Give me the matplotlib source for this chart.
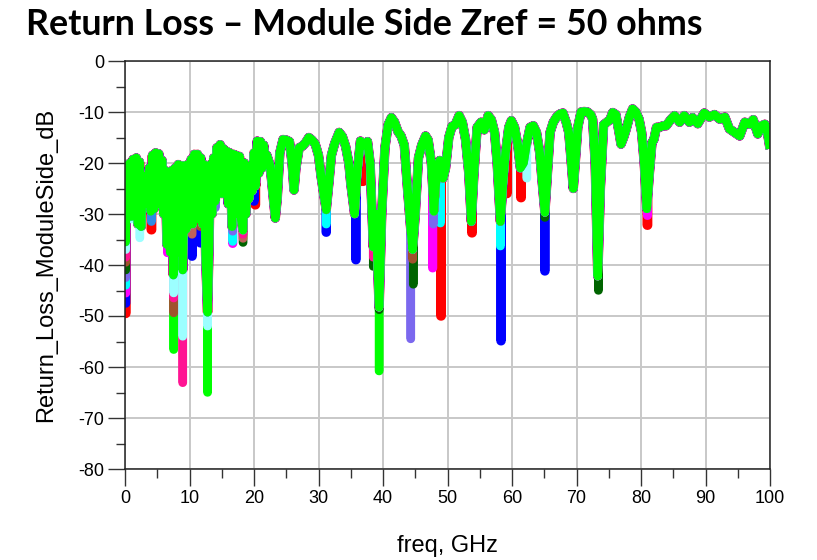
import numpy as np
import matplotlib
matplotlib.use("Agg")
import matplotlib.pyplot as plt

# ---------------- data ----------------
title_text = "Return Loss \u2013 Module Side Zref = 50 ohms"
x_label = "freq, GHz"
y_label = "Return_Loss_ModuleSide_dB"
x_ticks = [0, 10, 20, 30, 40, 50, 60, 70, 80, 90, 100]
y_ticks = [0, -10, -20, -30, -40, -50, -60, -70, -80]

# main (top, lime) trace
freq_ghz = [
    0.00, 0.10, 0.25, 0.50, 0.75, 1.00, 1.25, 1.50, 1.75, 2.00, 2.25, 2.50, 2.75, 3.00,
    3.25, 3.50, 3.75, 4.00, 4.25, 4.50, 4.75, 5.00, 5.25, 5.50, 5.75, 6.00, 6.25, 6.50,
    6.75, 7.00, 7.25, 7.50, 7.75, 8.00, 8.25, 8.50, 8.75, 8.95, 9.25, 9.50, 9.75, 10.00,
    10.25, 10.50, 10.75, 11.00, 11.25, 11.50, 11.75, 12.00, 12.25, 12.50, 12.80, 13.00,
    13.25, 13.50, 13.75, 14.00, 14.25, 14.50, 14.75, 15.00, 15.25, 15.50, 15.75, 16.00,
    16.25, 16.60, 16.85, 17.00, 17.25, 17.50, 17.75, 18.00, 18.30, 18.50, 18.75, 19.00,
    19.25, 19.50, 19.75, 20.00, 20.25, 20.50, 20.75, 21.00, 21.25, 21.50, 21.75, 22.00,
    22.50, 23.00, 23.30, 23.60, 24.00, 24.50, 25.00, 25.50, 25.90, 26.20, 26.50, 27.00,
    27.50, 28.00, 28.50, 29.00, 29.50, 30.00, 30.40, 30.80, 31.20, 31.60, 32.00, 32.50,
    33.20, 33.70, 34.20, 34.70, 35.00, 35.60, 36.00, 36.50, 37.00, 37.60, 38.00, 38.50,
    38.90, 39.40, 39.80, 40.30, 40.80, 41.30, 41.80, 42.30, 42.80, 43.30, 43.80, 44.30,
    44.60, 45.00, 45.50, 46.00, 46.60, 47.00, 47.50, 47.90, 48.30, 48.80, 49.30, 49.70,
    50.20, 50.70, 51.20, 51.80, 52.30, 52.80, 53.30, 53.70, 54.10, 54.60, 55.20, 55.70,
    56.30, 56.80, 57.30, 57.70, 58.20, 58.60, 59.00, 59.50, 59.90, 60.40, 60.90, 61.30,
    61.80, 62.30, 62.80, 63.30, 63.80, 64.30, 64.70, 65.10, 65.50, 65.90, 66.40, 66.90,
    67.40, 67.90, 68.40, 68.80, 69.20, 69.50, 69.80, 70.20, 70.70, 71.20, 71.70, 72.20,
    72.50, 72.90, 73.30, 73.70, 74.20, 74.70, 75.20, 75.60, 76.10, 76.60, 76.90, 77.30,
    77.70, 78.20, 78.70, 79.20, 79.70, 80.10, 80.50, 80.90, 81.30, 81.70, 82.00, 82.40,
    82.90, 83.40, 83.90, 84.60, 85.20, 85.70, 86.00, 86.70, 87.50, 88.00, 88.80, 89.80,
    90.60, 91.40, 92.20, 93.00, 93.70, 94.50, 95.30, 96.10, 96.80, 97.40, 98.10, 98.70,
    99.20, 99.60, 100.00,
]
lime_db = [
    -21.0, -35.5, -20.5, -30.0, -20.0, -30.5, -19.3, -30.0, -19.0, -32.0, -19.8, -32.5, -22.5, -28.0,
    -23.0, -27.0, -21.0, -29.5, -18.5, -29.0, -18.0, -28.0, -18.2, -27.0, -19.5, -30.0, -21.5, -36.0,
    -22.5, -37.5, -21.5, -42.0, -21.0, -36.0, -20.3, -37.5, -20.5, -41.0, -20.5, -33.0, -20.3, -32.0,
    -19.3, -32.0, -18.3, -31.0, -18.3, -31.0, -19.0, -32.0, -20.3, -38.0, -49.3, -38.0,
    -20.3, -30.0, -19.0, -27.5, -17.0, -26.0, -16.4, -26.0, -17.2, -26.0, -17.7, -28.0,
    -18.0, -32.5, -18.3, -30.0, -18.5, -26.0, -18.7, -31.0, -33.2, -20.0, -30.0, -21.0,
    -27.0, -20.5, -25.5, -18.0, -24.5, -15.7, -22.0, -15.8, -21.0, -16.5, -20.0, -18.5,
    -20.5, -27.0, -30.8, -27.0, -18.0, -15.4, -15.5, -15.8, -20.0, -25.3, -21.0, -17.0,
    -16.7, -16.0, -15.0, -15.5, -16.3, -18.5, -22.6, -26.0, -29.2, -24.0, -18.5, -16.2,
    -14.0, -14.8, -16.7, -20.0, -24.0, -30.0, -22.0, -15.7, -16.5, -15.8, -20.0, -36.5,
    -30.0, -48.3, -30.0, -17.0, -12.5, -11.1, -12.0, -13.8, -14.7, -16.5, -25.0, -33.0,
    -37.0, -30.0, -19.0, -16.5, -14.7, -15.5, -20.0, -29.5, -22.0, -19.5, -23.0, -21.0,
    -15.0, -12.8, -12.5, -10.7, -12.0, -15.4, -22.0, -31.5, -22.0, -13.0, -12.0, -13.5,
    -10.7, -11.5, -14.0, -20.0, -31.5, -24.0, -18.0, -13.0, -11.7, -13.0, -16.5, -21.0,
    -20.0, -16.0, -13.0, -12.7, -14.0, -18.0, -24.0, -29.7, -22.0, -14.0, -12.0, -11.0,
    -10.4, -10.2, -12.0, -14.0, -20.0, -25.0, -20.0, -13.0, -10.0, -9.9, -10.0, -10.5,
    -11.4, -20.0, -42.2, -25.0, -12.5, -12.0, -11.5, -10.1, -10.5, -14.0, -16.3, -15.0,
    -13.4, -11.0, -9.4, -10.0, -11.4, -14.0, -20.0, -29.0, -22.0, -16.0, -15.4, -13.0,
    -13.0, -12.7, -12.7, -11.5, -10.7, -11.5, -12.0, -10.7, -12.0, -11.1, -12.3, -10.2,
    -11.0, -10.5, -11.4, -11.0, -13.3, -14.0, -14.7, -12.0, -12.4, -11.5, -14.3, -12.7,
    -12.4, -14.0, -17.2,
]

# the other traces follow the main one except where their resonances dip deeper
lime_deep_dip_ghz = [7.55, 12.8, 39.4]
lime_deep_dip_db = [-56.6, -65.0, -60.8]
red_dip_ghz = [0.1, 4.1, 20.2, 36.9, 49.0, 53.8, 59.2, 61.4, 81.0]
red_dip_db = [-49.5, -33.1, -28.2, -23.6, -50.0, -33.7, -26.0, -26.8, -32.2]
blue_dip_ghz = [0.1, 10.4, 11.7, 20.0, 31.2, 35.8, 58.3, 65.1]
blue_dip_db = [-47.5, -38.3, -35.7, -27.5, -33.6, -39.0, -54.9, -41.2]
magenta_dip_ghz = [0.1, 6.6, 16.7, 47.7, 81.0]
magenta_dip_db = [-45.5, -37.6, -35.8, -40.6, -30.3]
cyan_dip_ghz = [0.1, 16.7, 31.2, 48.9, 58.2]
cyan_dip_db = [-44.0, -35.4, -32.0, -31.8, -36.3]
slateblue_dip_ghz = [0.1, 14.0, 16.7, 44.3, 47.8]
slateblue_dip_db = [-42.5, -28.8, -33.4, -54.5, -32.0]
darkgreen_dip_ghz = [0.1, 18.3, 38.5, 39.4, 44.7, 65.1, 73.4]
darkgreen_dip_db = [-41.0, -35.6, -40.3, -48.8, -43.8, -30.7, -45.0]
sienna_dip_ghz = [0.1, 7.55, 11.7, 44.6]
sienna_dip_db = [-39.5, -49.4, -32.5, -38.9]
indianred_dip_ghz = [10.4, 18.3]
indianred_dip_db = [-34.0, -34.8]
pink_dip_ghz = [0.1, 7.55, 8.95, 18.3, 38.5]
pink_dip_db = [-38.5, -46.5, -63.1, -34.0, -38.5]
paleturq_dip_ghz = [0.1, 1.0, 2.3, 7.55, 8.95, 12.8, 62.3]
paleturq_dip_db = [-37.0, -31.0, -34.7, -45.5, -54.0, -52.0, -23.0]
dodger_dip_ghz = [4.1]
dodger_dip_db = [-31.5]

# ---------------- styling ----------------
plt.rcParams["font.family"] = ["Liberation Sans", "DejaVu Sans"]
plt.rcParams["axes.unicode_minus"] = False

W, H = 817, 560
fig = plt.figure(figsize=(W / 100, H / 100), dpi=100)
L, R, T, B = 125, 770, 61, 469
ax = fig.add_axes([L / W, 1 - B / H, (R - L) / W, (B - T) / H])


def trace_with_dips(dip_f, dip_db, eps=0.03):
    f = np.asarray(freq_ghz, float)
    y = np.asarray(lime_db, float)
    keep = np.ones(len(f), bool)
    for f0 in dip_f:
        keep &= ~((f > f0 - eps - 1e-9) & (f < f0 + eps + 1e-9))
    pts = [(fx, 0, yy) for fx, yy in zip(f[keep], y[keep])]
    for f0, d in zip(dip_f, dip_db):
        yl = np.interp(f0 - eps, f, y)
        yr = np.interp(f0 + eps, f, y)
        pts += [(f0 - eps, 1, yl), (f0 - eps, 2, d), (f0 + eps, 3, d), (f0 + eps, 4, yr)]
    pts.sort(key=lambda p: (p[0], p[1]))
    return [p[0] for p in pts], [p[2] for p in pts]


LW = 6.0
layers = [
    ("#00FF00", lime_deep_dip_ghz, lime_deep_dip_db, LW),
    ("#FF0000", red_dip_ghz, red_dip_db, LW + 0.8),
    ("#0000FF", blue_dip_ghz, blue_dip_db, LW + 0.5),
    ("#FF00FF", magenta_dip_ghz, magenta_dip_db, LW + 0.3),
    ("#00FFFF", cyan_dip_ghz, cyan_dip_db, LW),
    ("#7B68EE", slateblue_dip_ghz, slateblue_dip_db, LW),
    ("#006400", darkgreen_dip_ghz, darkgreen_dip_db, LW),
    ("#A0522D", sienna_dip_ghz, sienna_dip_db, LW),
    ("#C0605A", indianred_dip_ghz, indianred_dip_db, LW),
    ("#FF1493", pink_dip_ghz, pink_dip_db, LW),
    ("#9CFFFF", paleturq_dip_ghz, paleturq_dip_db, LW),
    ("#2E8BE6", dodger_dip_ghz, dodger_dip_db, LW),
]
for color, df, dd, lw in layers:
    xs, ys = trace_with_dips(df, dd)
    ax.plot(xs, ys, color=color, lw=lw, solid_joinstyle="round",
            solid_capstyle="butt", zorder=3)
ax.plot(freq_ghz, lime_db, color="#00FF00", lw=LW, solid_joinstyle="round",
        solid_capstyle="butt", zorder=4)

ax.set_xlim(0, 100)
ax.set_ylim(-80, 0)
ax.set_xticks(x_ticks)
ax.set_xticklabels([str(v) for v in x_ticks])
ax.set_yticks(y_ticks)
ax.set_yticklabels([str(v) for v in y_ticks])
ax.set_xticks(np.arange(5, 100, 10), minor=True)
ax.set_yticks(np.arange(-75, 0, 10), minor=True)
ax.grid(True, which="major", color="#C8C8C8", lw=1.4, zorder=1)
ax.set_axisbelow(True)
ax.tick_params(which="major", direction="out", length=12.2, width=1.0,
               color="#333333", labelsize=13, pad=3.0, labelcolor="black")
ax.tick_params(which="minor", direction="out", length=6.5, width=1.0,
               color="#333333")
for s in ax.spines.values():
    s.set_color("#222222")
    s.set_linewidth(1.1)
    s.set_zorder(5)

fig.text(46 / W, 1 - 265 / H, y_label, rotation=90, ha="center", va="center",
         fontsize=17)
fig.text(447.5 / W, 1 - 552 / H, x_label, ha="center", va="baseline",
         fontsize=17)

t = fig.text(26 / W, 1 - 35 / H, title_text, ha="left", va="baseline",
             fontsize=26, fontweight="bold", family=["Lato", "DejaVu Sans"])
fig.canvas.draw()
w = t.get_window_extent().width
t.set_fontsize(26 * 675 / w)

fig.savefig("out.png", dpi=100)
